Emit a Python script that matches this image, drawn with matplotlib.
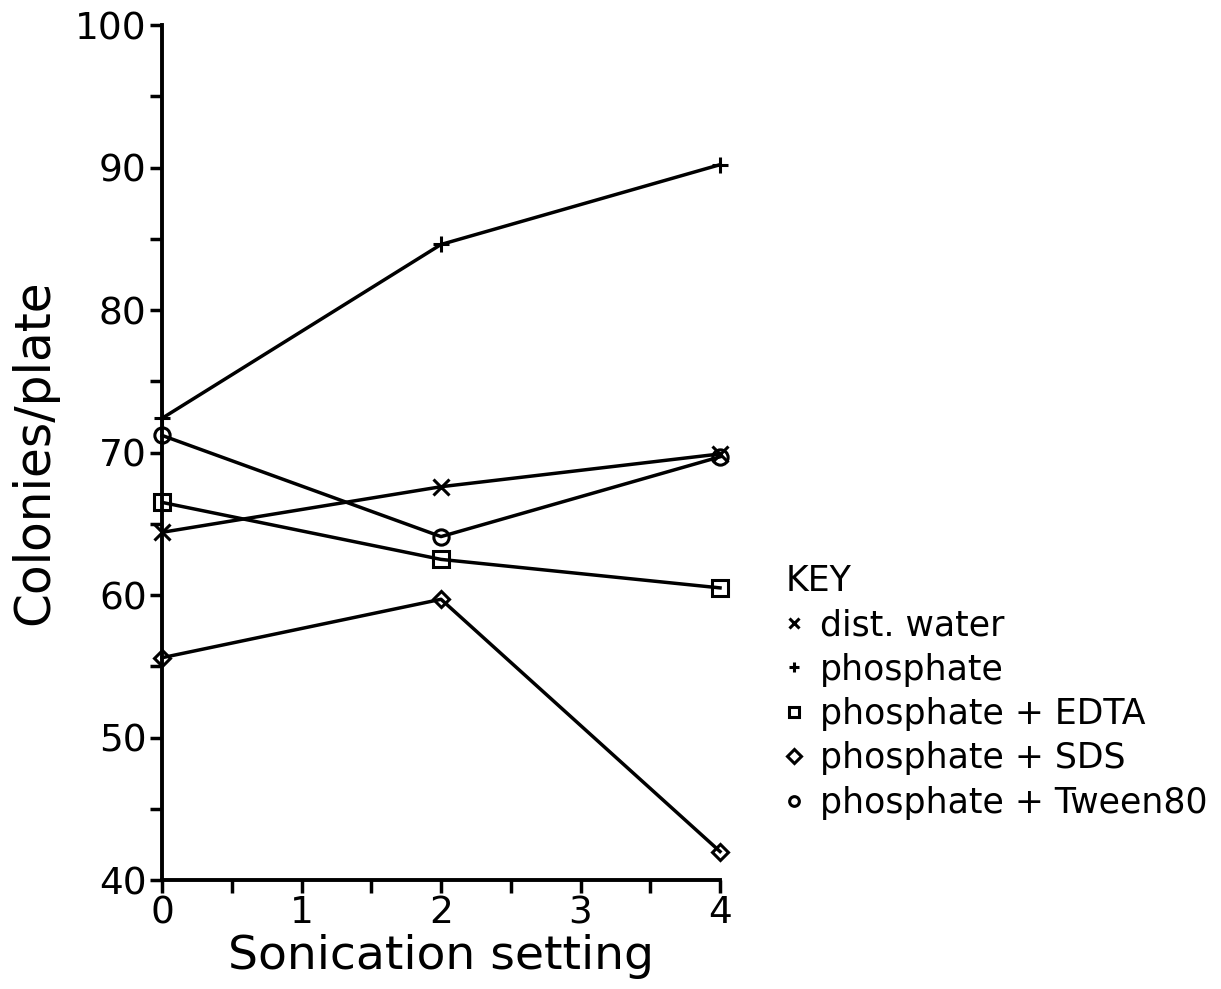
import matplotlib.pyplot as plt
from matplotlib.ticker import MultipleLocator

# Colony counts per plate at each sonication setting
settings = [0, 2, 4]
dist_water = [64.4, 67.6, 69.9]
phosphate = [72.4, 84.6, 90.2]
phosphate_edta = [66.5, 62.5, 60.5]
phosphate_sds = [55.6, 59.7, 42.0]
phosphate_tween = [71.2, 64.1, 69.7]

series = [
    (dist_water, "x", "dist. water"),
    (phosphate, "+", "phosphate"),
    (phosphate_edta, "s", "phosphate + EDTA"),
    (phosphate_sds, "D", "phosphate + SDS"),
    (phosphate_tween, "o", "phosphate + Tween80"),
]

plt.rcParams["font.family"] = "DejaVu Sans"

fig = plt.figure(figsize=(12.21, 9.89), dpi=100)
ax = fig.add_axes([0.1327, 0.1102, 0.457, 0.8645])

handles = []
for vals, mk, name in series:
    ms = 8 if mk == "D" else 11
    ax.plot(settings, vals, color="black", lw=2.5, marker=mk, ms=ms,
            mfc="none", mec="black", mew=2.2, clip_on=False)
    h, = ax.plot([], [], ls="none", marker=mk, ms=7, mfc="none",
                 mec="black", mew=2.2, color="black", label=name)
    handles.append(h)

ax.set_xlim(0, 4)
ax.set_ylim(40, 100)
ax.xaxis.set_major_locator(MultipleLocator(1))
ax.xaxis.set_minor_locator(MultipleLocator(0.5))
ax.yaxis.set_major_locator(MultipleLocator(10))
ax.yaxis.set_minor_locator(MultipleLocator(5))

for s in ["top", "right"]:
    ax.spines[s].set_visible(False)
for s in ["left", "bottom"]:
    ax.spines[s].set_linewidth(2.8)

ax.tick_params(which="major", length=9, width=2.5, labelsize=27, pad=2)
ax.tick_params(which="minor", length=9, width=2.5)

ax.set_xlabel("Sonication setting", fontsize=34, labelpad=2)
ax.set_ylabel("Colonies/plate", fontsize=35, labelpad=12)

fig.legend(handles=handles, title="KEY", loc="upper left",
           bbox_to_anchor=(0.632, 0.444), frameon=False, fontsize=25,
           title_fontsize=25, alignment="left", handlelength=0.5,
           handletextpad=0.5, labelspacing=0.3, borderaxespad=0)

fig.savefig("out.png", dpi=100)
